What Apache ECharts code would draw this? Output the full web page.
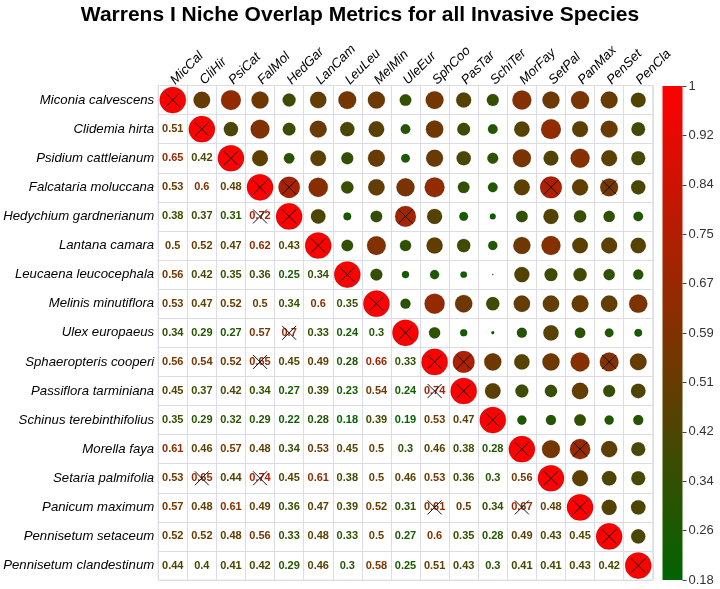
<!DOCTYPE html>
<html><head><meta charset="utf-8">
<script src="https://cdn.jsdelivr.net/npm/echarts@6/dist/echarts.min.js"></script>
<style>html,body{margin:0;padding:0;background:#fff}#main{width:720px;height:589px}</style>
</head><body><div id="main"></div>
<script>
const speciesNames = ['Miconia calvescens','Clidemia hirta','Psidium cattleianum','Falcataria moluccana','Hedychium gardnerianum','Lantana camara','Leucaena leucocephala','Melinis minutiflora','Ulex europaeus','Sphaeropteris cooperi','Passiflora tarminiana','Schinus terebinthifolius','Morella faya','Setaria palmifolia','Panicum maximum','Pennisetum setaceum','Pennisetum clandestinum'];
const speciesCodes = ['MicCal','CliHir','PsiCat','FalMol','HedGar','LanCam','LeuLeu','MelMin','UleEur','SphCoo','PasTar','SchiTer','MorFay','SetPal','PanMax','PenSet','PenCla'];
// lower triangle (row i, columns 0..i-1)
const lowerValues = [
  [],
  [0.51],
  [0.65,0.42],
  [0.53,0.6,0.48],
  [0.38,0.37,0.31,0.72],
  [0.5,0.52,0.47,0.62,0.43],
  [0.56,0.42,0.35,0.36,0.25,0.34],
  [0.53,0.47,0.52,0.5,0.34,0.6,0.35],
  [0.34,0.29,0.27,0.57,0.7,0.33,0.24,0.3],
  [0.56,0.54,0.52,0.65,0.45,0.49,0.28,0.66,0.33],
  [0.45,0.37,0.42,0.34,0.27,0.39,0.23,0.54,0.24,0.74],
  [0.35,0.29,0.32,0.29,0.22,0.28,0.18,0.39,0.19,0.53,0.47],
  [0.61,0.46,0.57,0.48,0.34,0.53,0.45,0.5,0.3,0.46,0.38,0.28],
  [0.53,0.65,0.44,0.74,0.45,0.61,0.38,0.5,0.46,0.53,0.36,0.3,0.56],
  [0.57,0.48,0.61,0.49,0.36,0.47,0.39,0.52,0.31,0.61,0.5,0.34,0.67,0.48],
  [0.52,0.52,0.48,0.56,0.33,0.48,0.33,0.5,0.27,0.6,0.35,0.28,0.49,0.43,0.45],
  [0.44,0.4,0.41,0.42,0.29,0.46,0.3,0.58,0.25,0.51,0.43,0.3,0.41,0.41,0.43,0.42]
];
const crossedLower = [[4,3],[8,4],[9,3],[10,9],[13,1],[13,3],[14,9],[14,12]];
const crossedUpper = [[3,4],[3,13],[3,15],[4,8],[9,10],[9,15],[12,14]];
const colorbarLabels = ['0.18','0.26','0.34','0.42','0.51','0.59','0.67','0.75','0.84','0.92','1'];
const valueMin = 0.18, valueMax = 1;

function val(i,j){ if(i===j) return 1; return i>j ? lowerValues[i][j] : lowerValues[j][i]; }
function colorFor(v){
  const s = Math.max(0, Math.min(1, (v-valueMin)/(valueMax-valueMin)));
  return 'rgb(' + Math.round(255*s) + ',' + Math.round(100*(1-s)) + ',0)';
}
const n = speciesCodes.length;
const circleData = [], textData = [], crossData = [];
for (let i=0;i<n;i++){
  for (let j=0;j<n;j++){
    const v = val(i,j);
    if (j>=i) circleData.push({value:[j,i,v], itemStyle:{color:colorFor(v)}});
    else textData.push([j,i,v]);
  }
  crossData.push([i,i]);
}
crossedLower.concat(crossedUpper).forEach(p => crossData.push([p[1],p[0]]));

const FONT = '"Liberation Sans", Arial, sans-serif';
const chart = echarts.init(document.getElementById('main'), null, {renderer:'canvas'});
chart.setOption({
  animation:false,
  backgroundColor:'#fff',
  title:{text:'Warrens I Niche Overlap Metrics for all Invasive Species', left:'center', top:0,
    textStyle:{fontFamily:FONT, fontSize:21, fontWeight:'bold', color:'#000'}},
  grid:[
    {left:158.2, top:85.5, width:494.6, height:494.6, show:true, borderColor:'#dcdce4', borderWidth:1, containLabel:false, outerBoundsMode:'none'},
    {left:662.5, top:86, width:20, height:494, containLabel:false, outerBoundsMode:'none'}
  ],
  xAxis:[
    {type:'category', data:speciesCodes, gridIndex:0, position:'top',
      axisLine:{show:false}, axisTick:{show:false},
      axisLabel:{rotate:-45, interval:0, fontStyle:'italic', fontSize:13.2, color:'#000', fontFamily:FONT, margin:3},
      splitLine:{show:true, interval:0, lineStyle:{color:'#dcdce4', width:1}}},
    {type:'category', data:['bar'], gridIndex:1, show:false}
  ],
  yAxis:[
    {type:'category', data:speciesNames, gridIndex:0, inverse:true,
      axisLine:{show:false}, axisTick:{show:false},
      axisLabel:{interval:0, fontStyle:'italic', fontSize:13.2, color:'#000', fontFamily:FONT, margin:4},
      splitLine:{show:true, interval:0, lineStyle:{color:'#dcdce4', width:1}}},
    {type:'value', gridIndex:1, min:0, max:10, interval:1, position:'right',
      axisLine:{show:false}, axisTick:{show:true, length:4, lineStyle:{color:'#444'}},
      splitLine:{show:false},
      axisLabel:{formatter:v => colorbarLabels[Math.round(v)], fontSize:13, color:'#333', fontFamily:FONT, margin:6}}
  ],
  series:[
    {type:'bar', xAxisIndex:1, yAxisIndex:1, data:[10], barWidth:'100%', silent:true,
      itemStyle:{color:new echarts.graphic.LinearGradient(0,0,0,1,[{offset:0,color:'rgb(255,0,0)'},{offset:1,color:'rgb(0,100,0)'}])}},
    {type:'scatter', xAxisIndex:0, yAxisIndex:0, data:circleData, silent:true, z:3,
      symbolSize:d => Math.max(1.2, 26.2*Math.sqrt(Math.max(0,(d[2]-valueMin)/(valueMax-valueMin)))),
      itemStyle:{borderColor:'rgba(0,0,0,0.3)', borderWidth:0.6, opacity:1}},
    {type:'custom', xAxisIndex:0, yAxisIndex:0, data:textData, silent:true, z:4,
      renderItem:(params, api) => {
        const p = api.coord([api.value(0), api.value(1)]);
        const v = api.value(2);
        return {type:'text', x:p[0], y:p[1], style:{text:String(v), fill:colorFor(v), font:'bold 11px ' + FONT, align:'center', verticalAlign:'middle'}};
      }},
    {type:'custom', xAxisIndex:0, yAxisIndex:0, data:crossData, silent:true, z:5,
      renderItem:(params, api) => {
        const p = api.coord([api.value(0), api.value(1)]);
        const h = 7;
        return {type:'group', children:[
          {type:'line', shape:{x1:p[0]-h,y1:p[1]-h,x2:p[0]+h,y2:p[1]+h}, style:{stroke:'#111', lineWidth:1}},
          {type:'line', shape:{x1:p[0]-h,y1:p[1]+h,x2:p[0]+h,y2:p[1]-h}, style:{stroke:'#111', lineWidth:1}}
        ]};
      }}
  ]
});
</script></body></html>
